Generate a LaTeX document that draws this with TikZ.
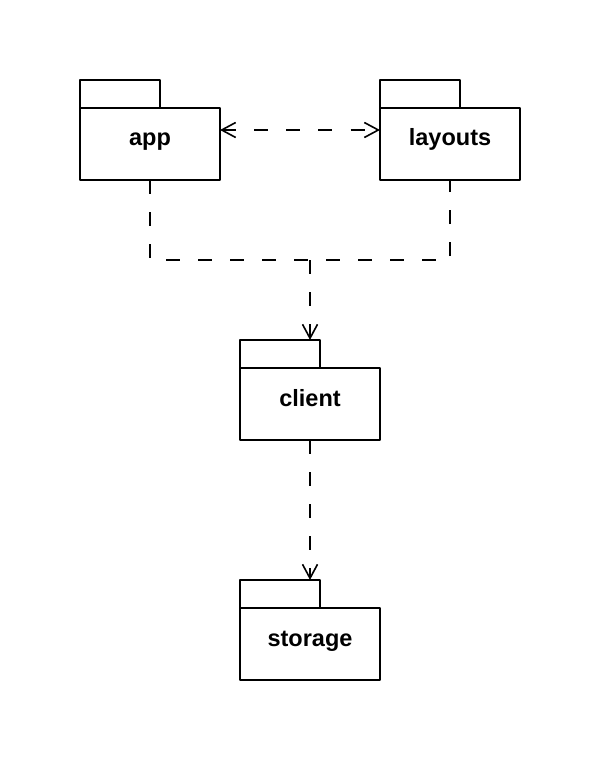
\documentclass[tikz,border=0pt]{standalone}
\usepackage{fontspec}
\setmainfont{Liberation Sans}
\usetikzlibrary{arrows.meta,positioning}
\begin{document}
\begin{tikzpicture}[x=1pt, y=-1pt, line join=round, line width=1.6pt,
    pkg/.style={draw, minimum width=140pt, minimum height=72pt, inner sep=0pt, outer sep=0pt,
        text height=17pt, text depth=13pt, font=\fontsize{23.5}{26}\selectfont\bfseries},
    pkgtab/.style={draw, minimum width=80pt, minimum height=28pt, inner sep=0pt, outer sep=0pt,
        anchor=south west},
    dep/.style={dash pattern=on 14pt off 18pt},
    barb/.tip={Straight Barb[length=14pt, width=15pt, line width=1.6pt]}]
    \useasboundingbox (0,0) rectangle (602,762);
    % packages
    \node[pkg] (app) at (150,144) {app};
    \node[pkg] (layouts) at (450,144) {layouts};
    \node[pkg] (client) at (310,404) {client};
    \node[pkg] (storage) at (310,644) {storage};
    \node[pkgtab] (apptab) at (app.north west) {};
    \node[pkgtab] (layoutstab) at (layouts.north west) {};
    \node[pkgtab] (clienttab) at (client.north west) {};
    \node[pkgtab] (storagetab) at (storage.north west) {};
    % dependencies
    \coordinate (hub) at (310,260);
    \draw[dep, barb-barb] ([yshift=14pt]app.east) -- ([yshift=14pt]layouts.west);
    \draw[dep] (app.south) |- (hub) -| (layouts.south);
    \draw[dep, -barb] (hub) -- (client.north |- clienttab.north);
    \draw[dep, -barb] (client.south) -- (storage.north |- storagetab.north);
\end{tikzpicture}
\end{document}
